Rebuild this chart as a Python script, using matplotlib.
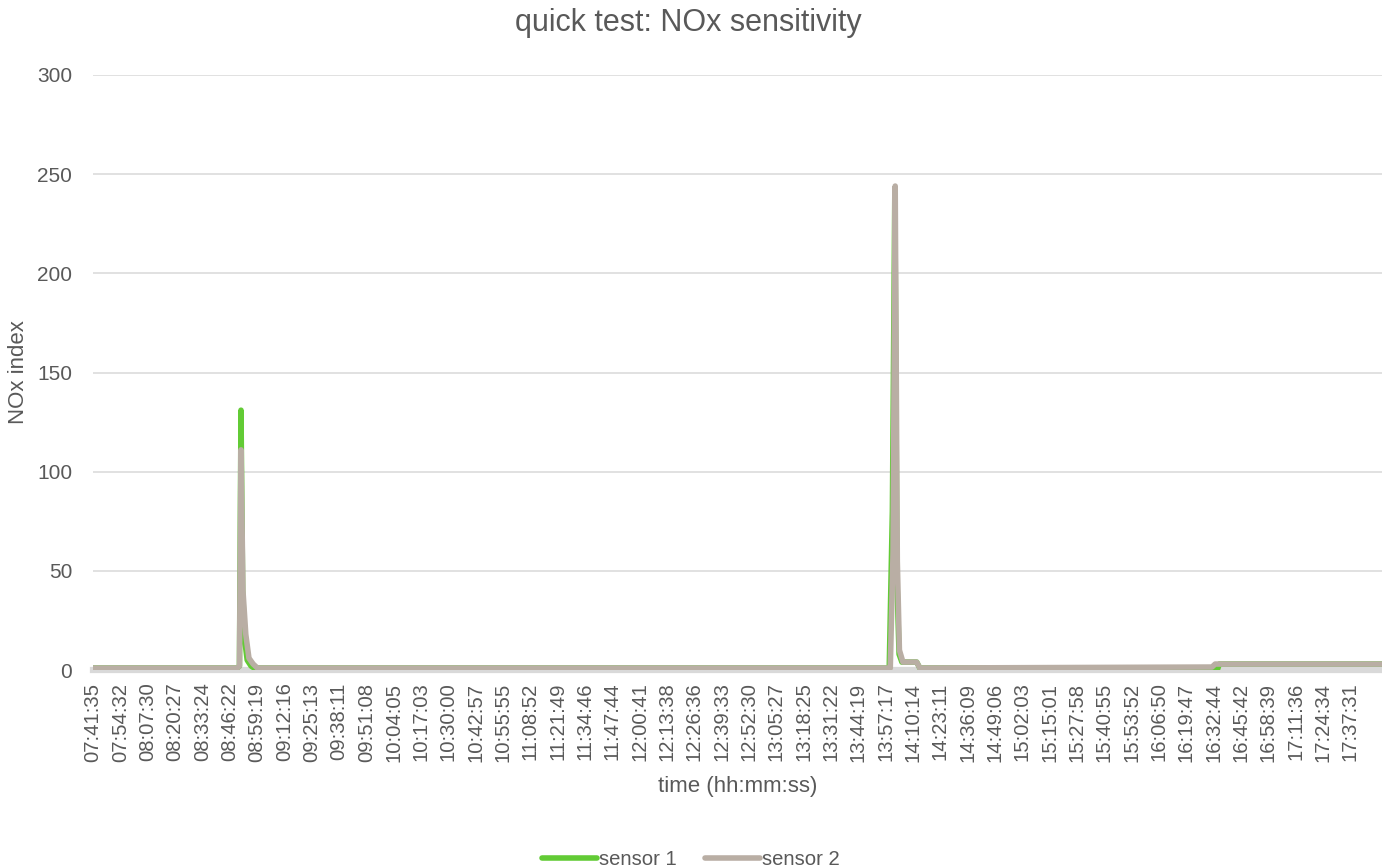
"""
NOx sensitivity quick test - two sensors over one day
"""
import matplotlib
matplotlib.use('Agg')
import matplotlib.pyplot as plt

plt.rcParams['font.family'] = ['Liberation Sans', 'DejaVu Sans']

# category labels shown on the time axis
tick_labels = ['07:41:35', '07:54:32', '08:07:30', '08:20:27', '08:33:24', '08:46:22',
               '08:59:19', '09:12:16', '09:25:13', '09:38:11', '09:51:08', '10:04:05',
               '10:17:03', '10:30:00', '10:42:57', '10:55:55', '11:08:52', '11:21:49',
               '11:34:46', '11:47:44', '12:00:41', '12:13:38', '12:26:36', '12:39:33',
               '12:52:30', '13:05:27', '13:18:25', '13:31:22', '13:44:19', '13:57:17',
               '14:10:14', '14:23:11', '14:36:09', '14:49:06', '15:02:03', '15:15:01',
               '15:27:58', '15:40:55', '15:53:52', '16:06:50', '16:19:47', '16:32:44',
               '16:45:42', '16:58:39', '17:11:36', '17:24:34', '17:37:31']
end_time = '17:52:35'

# readings (time, NOx index)
s1_time = ['07:41:35', '08:49:50', '08:51:00', '08:51:44', '08:52:30', '08:53:30',
           '08:54:40', '08:56:30', '08:58:00', '13:59:00', '14:00:30', '14:01:40',
           '14:02:40', '14:03:40', '14:05:00', '14:12:00', '14:13:30', '16:33:00',
           '16:34:30', '16:35:30', '17:52:35']
s1_val = [1, 1, 2, 131, 40, 15, 5, 2, 1, 1, 80, 243, 45, 8, 4, 4, 1, 1, 0, 3, 3]

s2_time = ['07:41:35', '08:49:50', '08:51:00', '08:51:44', '08:52:40', '08:54:00',
           '08:55:30', '08:57:30', '08:59:30', '13:59:30', '14:00:50', '14:01:50',
           '14:02:50', '14:03:50', '14:05:30', '14:12:00', '14:13:30', '16:32:00',
           '16:33:30', '17:52:35']
s2_val = [1, 1, 2, 111, 40, 18, 6, 3, 1, 1, 60, 244, 55, 10, 4, 4, 1, 1.5, 3, 3]


def secs(s):
    h, m, sec = s.split(':')
    return int(h) * 3600 + int(m) * 60 + int(sec)


t0 = secs(tick_labels[0])
x1 = [secs(t) - t0 for t in s1_time]
x2 = [secs(t) - t0 for t in s2_time]
xt = [secs(t) - t0 for t in tick_labels]

txt = '#595959'
fig = plt.figure(figsize=(13.82, 8.68), dpi=100)
ax = fig.add_axes([0.0673, 0.2281, 0.9327, 0.6855])

ax.plot(x1, s1_val, color='#62cb35', lw=4, label='sensor 1', zorder=3,
        solid_capstyle='round', solid_joinstyle='round')
ax.plot(x2, s2_val, color='#b9aea4', lw=4, label='sensor 2', zorder=4,
        solid_capstyle='round', solid_joinstyle='round')

ax.set_xlim(0, secs(end_time) - t0)
ax.set_ylim(0, 300)
ax.set_yticks(range(0, 301, 50))
ax.set_xticks(xt)
ax.set_xticklabels(tick_labels, rotation=90, fontsize=14.6, color=txt)
ax.tick_params(axis='y', labelsize=15, labelcolor=txt, length=0, pad=15)
ax.tick_params(axis='x', length=0, pad=9)

ax.grid(axis='y', color='#d9d9d9', lw=1.1)
ax.set_axisbelow(True)
for side in ['top', 'right', 'left']:
    ax.spines[side].set_visible(False)
ax.spines['bottom'].set_color('#d9d9d9')
ax.spines['bottom'].set_linewidth(4.5)
ax.spines['bottom'].set_zorder(2)

ax.set_title('quick test: NOx sensitivity', fontsize=22, color=txt, pad=32, x=0.4616)
ax.set_ylabel('NOx index', fontsize=16, color=txt)
ax.yaxis.set_label_coords(-0.058, 0.5)
ax.yaxis.label.set_verticalalignment('center')
ax.set_xlabel('time (hh:mm:ss)', fontsize=16, color=txt, labelpad=10)

fig.legend(loc='lower center', bbox_to_anchor=(0.5, -0.022), ncol=2, frameon=False,
           fontsize=14.6, labelcolor=txt, handlelength=2.7, handletextpad=0.1,
           columnspacing=1.4)

fig.savefig('out.png', dpi=100)
